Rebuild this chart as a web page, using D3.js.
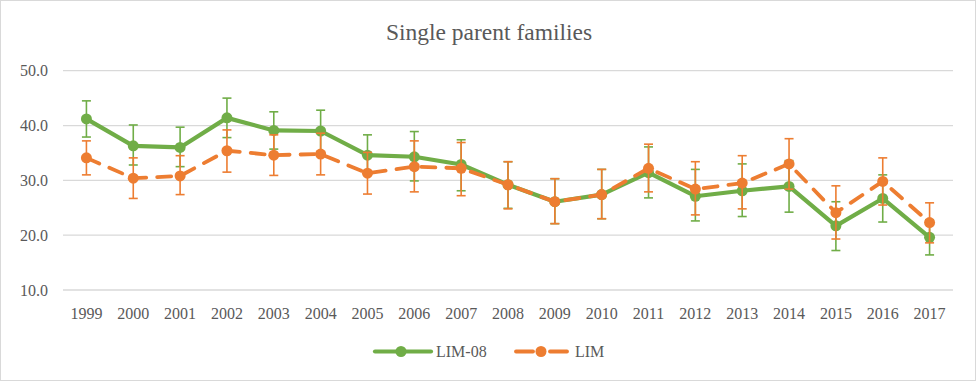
<!DOCTYPE html>
<html><head><meta charset="utf-8">
<script src="https://cdn.jsdelivr.net/npm/d3@7"></script>
<style>body{margin:0;background:#fff}svg{display:block}text{font-family:"Liberation Serif","DejaVu Serif",serif}</style>
</head><body>
<svg id="c" width="977" height="382"></svg>
<script>
const years = ["1999","2000","2001","2002","2003","2004","2005","2006","2007","2008","2009","2010","2011","2012","2013","2014","2015","2016","2017"];
const lim08 = [41.2,36.3,36.0,41.4,39.1,39.0,34.6,34.3,32.9,29.2,26.1,27.4,31.4,27.1,28.1,28.9,21.7,26.7,19.6];
const lim08Hi = [44.5,40.1,39.7,45.0,42.5,42.8,38.3,38.9,37.4,33.4,30.3,32.0,36.1,32.0,33.0,33.6,26.1,31.0,22.8];
const lim08Lo = [37.9,32.8,32.5,37.8,35.7,35.2,31.0,29.9,28.1,24.9,22.1,23.0,26.8,22.6,23.4,24.2,17.2,22.4,16.4];
const lim = [34.1,30.4,30.8,35.4,34.6,34.8,31.3,32.5,32.2,29.2,26.1,27.4,32.2,28.4,29.5,33.0,24.1,29.8,22.3];
const limHi = [37.2,34.1,34.5,39.2,38.3,38.6,35.1,37.2,36.9,33.4,30.3,32.0,36.6,33.4,34.5,37.6,29.0,34.1,25.9];
const limLo = [31.0,26.7,27.4,31.5,30.9,31.0,27.5,27.9,27.2,24.8,22.1,23.0,27.9,23.7,24.8,28.4,19.3,25.5,18.6];
const yTicks = [10,20,30,40,50];
const title = "Single parent families";
const seriesNames = ["LIM-08","LIM"];

const svg = d3.select("#c");
const W = 977, H = 382;
const green = "#70AD47", orange = "#ED7D31";

svg.append("rect").attr("x",0.5).attr("y",0.5).attr("width",W-2).attr("height",H-2)
  .attr("fill","#fff").attr("stroke","#d9d9d9");

const x = d3.scaleBand().domain(years).range([63,953]);
const y = d3.scaleLinear().domain([10,50]).range([290,70.7]);
const cx = d => x(d) + x.bandwidth()/2;

svg.append("g").selectAll("line").data(yTicks).join("line")
  .attr("x1",63).attr("x2",953).attr("y1",d=>y(d)).attr("y2",d=>y(d))
  .attr("stroke","#d9d9d9").attr("stroke-width",1.3);

svg.append("g").selectAll("text").data(yTicks).join("text")
  .attr("x",48).attr("y",d=>y(d)).attr("dy","0.35em").attr("text-anchor","end")
  .attr("font-size",16).attr("fill","#595959")
  .text(d=>d3.format(".1f")(d));

svg.append("g").selectAll("text").data(years).join("text")
  .attr("x",d=>cx(d)).attr("y",313).attr("dy","0.35em").attr("text-anchor","middle")
  .attr("font-size",16).attr("fill","#595959")
  .text(d=>d);

svg.append("text").attr("x",489).attr("y",32).attr("dy","0.35em").attr("text-anchor","middle")
  .attr("font-size",23.5).attr("fill","#595959").text(title);

function drawSeries(vals, hi, lo, color, dash){
  const g = svg.append("g");
  const line = d3.line().x((d,i)=>cx(years[i])).y(d=>y(d));
  g.append("path").attr("d",line(vals)).attr("fill","none").attr("stroke",color)
    .attr("stroke-width",dash?3.8:4.2).attr("stroke-linejoin","round")
    .attr("stroke-linecap",dash?"round":"butt")
    .attr("stroke-dasharray",dash?"14,11":null);
  const eb = g.append("g").attr("stroke",color).attr("stroke-width",1.6);
  years.forEach((yr,i)=>{
    const X = cx(yr);
    eb.append("line").attr("x1",X).attr("x2",X).attr("y1",y(hi[i])).attr("y2",y(lo[i]));
    eb.append("line").attr("x1",X-4.5).attr("x2",X+4.5).attr("y1",y(hi[i])).attr("y2",y(hi[i]));
    eb.append("line").attr("x1",X-4.5).attr("x2",X+4.5).attr("y1",y(lo[i])).attr("y2",y(lo[i]));
  });
  g.append("g").selectAll("circle").data(vals).join("circle")
    .attr("cx",(d,i)=>cx(years[i])).attr("cy",d=>y(d)).attr("r",5.5).attr("fill",color);
}
drawSeries(lim08, lim08Hi, lim08Lo, green, false);
drawSeries(lim, limHi, limLo, orange, true);

const ly = 351.5;
const lg = svg.append("g");
lg.append("line").attr("x1",375).attr("x2",431).attr("y1",ly).attr("y2",ly).attr("stroke",green).attr("stroke-width",4.2).attr("stroke-linecap","round");
lg.append("circle").attr("cx",401).attr("cy",ly).attr("r",5.5).attr("fill",green);
lg.append("text").attr("x",436).attr("y",ly).attr("dy","0.35em").attr("font-size",16).attr("fill","#595959").text(seriesNames[0]);
lg.append("line").attr("x1",516).attr("x2",533).attr("y1",ly).attr("y2",ly).attr("stroke",orange).attr("stroke-width",3.8).attr("stroke-linecap","round");
lg.append("line").attr("x1",550).attr("x2",567).attr("y1",ly).attr("y2",ly).attr("stroke",orange).attr("stroke-width",3.8).attr("stroke-linecap","round");
lg.append("circle").attr("cx",541).attr("cy",ly).attr("r",5.5).attr("fill",orange);
lg.append("text").attr("x",575).attr("y",ly).attr("dy","0.35em").attr("font-size",16).attr("fill","#595959").text(seriesNames[1]);
</script>
</body></html>
